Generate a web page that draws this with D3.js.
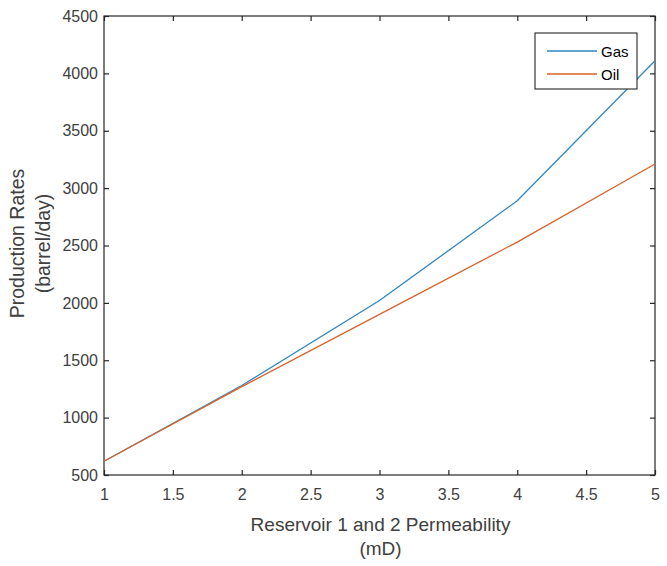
<!DOCTYPE html>
<html><head><meta charset="utf-8">
<script src="https://cdn.jsdelivr.net/npm/d3@7"></script>
<style>body{margin:0;background:#fff}svg{display:block}text{font-family:"Liberation Sans",Arial,sans-serif}</style>
</head><body>
<svg id="c" width="667" height="566"></svg>
<script>
const permeability = [1, 2, 3, 4, 5];
const gasRates = [620, 1280, 2020, 2890, 4110];
const oilRates = [620, 1270, 1900, 2530, 3210];
const xTicks = [1, 1.5, 2, 2.5, 3, 3.5, 4, 4.5, 5];
const yTicks = [500, 1000, 1500, 2000, 2500, 3000, 3500, 4000, 4500];
const seriesNames = ["Gas", "Oil"];
const seriesColors = ["#2f86c0", "#d9622b"];

const svg = d3.select("#c");
const L = 104, R = 655, T = 16, B = 475;
const x = d3.scaleLinear().domain([1, 5]).range([L, R]);
const y = d3.scaleLinear().domain([500, 4500]).range([B, T]);
const axisCol = "#262626";
const labelCol = "#404040";

// box
svg.append("rect").attr("x", L).attr("y", T).attr("width", R - L).attr("height", B - T)
  .attr("fill", "#fff").attr("stroke", axisCol).attr("stroke-width", 1.2);

// axes
const fmt = d => String(d);
const gx = svg.append("g").attr("transform", `translate(0,${B})`)
  .call(d3.axisBottom(x).tickValues(xTicks).tickFormat(fmt).tickSizeInner(-5).tickSizeOuter(0).tickPadding(14));
const gxTop = svg.append("g").attr("transform", `translate(0,${T})`)
  .call(d3.axisTop(x).tickValues(xTicks).tickFormat("").tickSizeInner(-5).tickSizeOuter(0));
const gy = svg.append("g").attr("transform", `translate(${L},0)`)
  .call(d3.axisLeft(y).tickValues(yTicks).tickFormat(fmt).tickSizeInner(-5).tickSizeOuter(0).tickPadding(6));
const gyR = svg.append("g").attr("transform", `translate(${R},0)`)
  .call(d3.axisRight(y).tickValues(yTicks).tickFormat("").tickSizeInner(-5).tickSizeOuter(0));
[gx, gxTop, gy, gyR].forEach(g => {
  g.select(".domain").remove();
  g.selectAll("line").attr("stroke", axisCol).attr("stroke-width", 1.2);
  g.selectAll("text").attr("fill", labelCol).style("font-size", "16px").style("font-family", '"Liberation Sans",Arial,sans-serif');
});

// lines
const line = d3.line().x((d, i) => x(permeability[i])).y(d => y(d));
[gasRates, oilRates].forEach((s, k) => {
  svg.append("path").datum(s).attr("d", line).attr("fill", "none")
    .attr("stroke", seriesColors[k]).attr("stroke-width", 1.3);
});

// axis labels
svg.append("text").attr("x", (L + R) / 2 + 1).attr("y", 531).attr("text-anchor", "middle")
  .attr("fill", labelCol).style("font-size", "19px").text("Reservoir 1 and 2 Permeability");
svg.append("text").attr("x", (L + R) / 2 + 1).attr("y", 555).attr("text-anchor", "middle")
  .attr("fill", labelCol).style("font-size", "19px").text("(mD)");
const yl = svg.append("g").attr("transform", `translate(0,${(T + B) / 2 - 2}) rotate(-90)`);
yl.append("text").attr("x", 0).attr("y", 24).attr("text-anchor", "middle")
  .attr("fill", labelCol).style("font-size", "19.5px").text("Production Rates");
yl.append("text").attr("x", 0).attr("y", 50).attr("text-anchor", "middle")
  .attr("fill", labelCol).style("font-size", "19.5px").text("(barrel/day)");

// legend
const lg = svg.append("g");
lg.append("rect").attr("x", 535).attr("y", 33).attr("width", 102).attr("height", 56)
  .attr("fill", "#fff").attr("stroke", axisCol).attr("stroke-width", 1.1);
seriesNames.forEach((n, k) => {
  const yy = 51 + k * 23;
  lg.append("line").attr("x1", 547).attr("x2", 597).attr("y1", yy).attr("y2", yy)
    .attr("stroke", seriesColors[k]).attr("stroke-width", 1.3);
  lg.append("text").attr("x", 601).attr("y", yy + 6).attr("fill", "#000")
    .style("font-size", "15px").text(n);
});
</script>
</body></html>
